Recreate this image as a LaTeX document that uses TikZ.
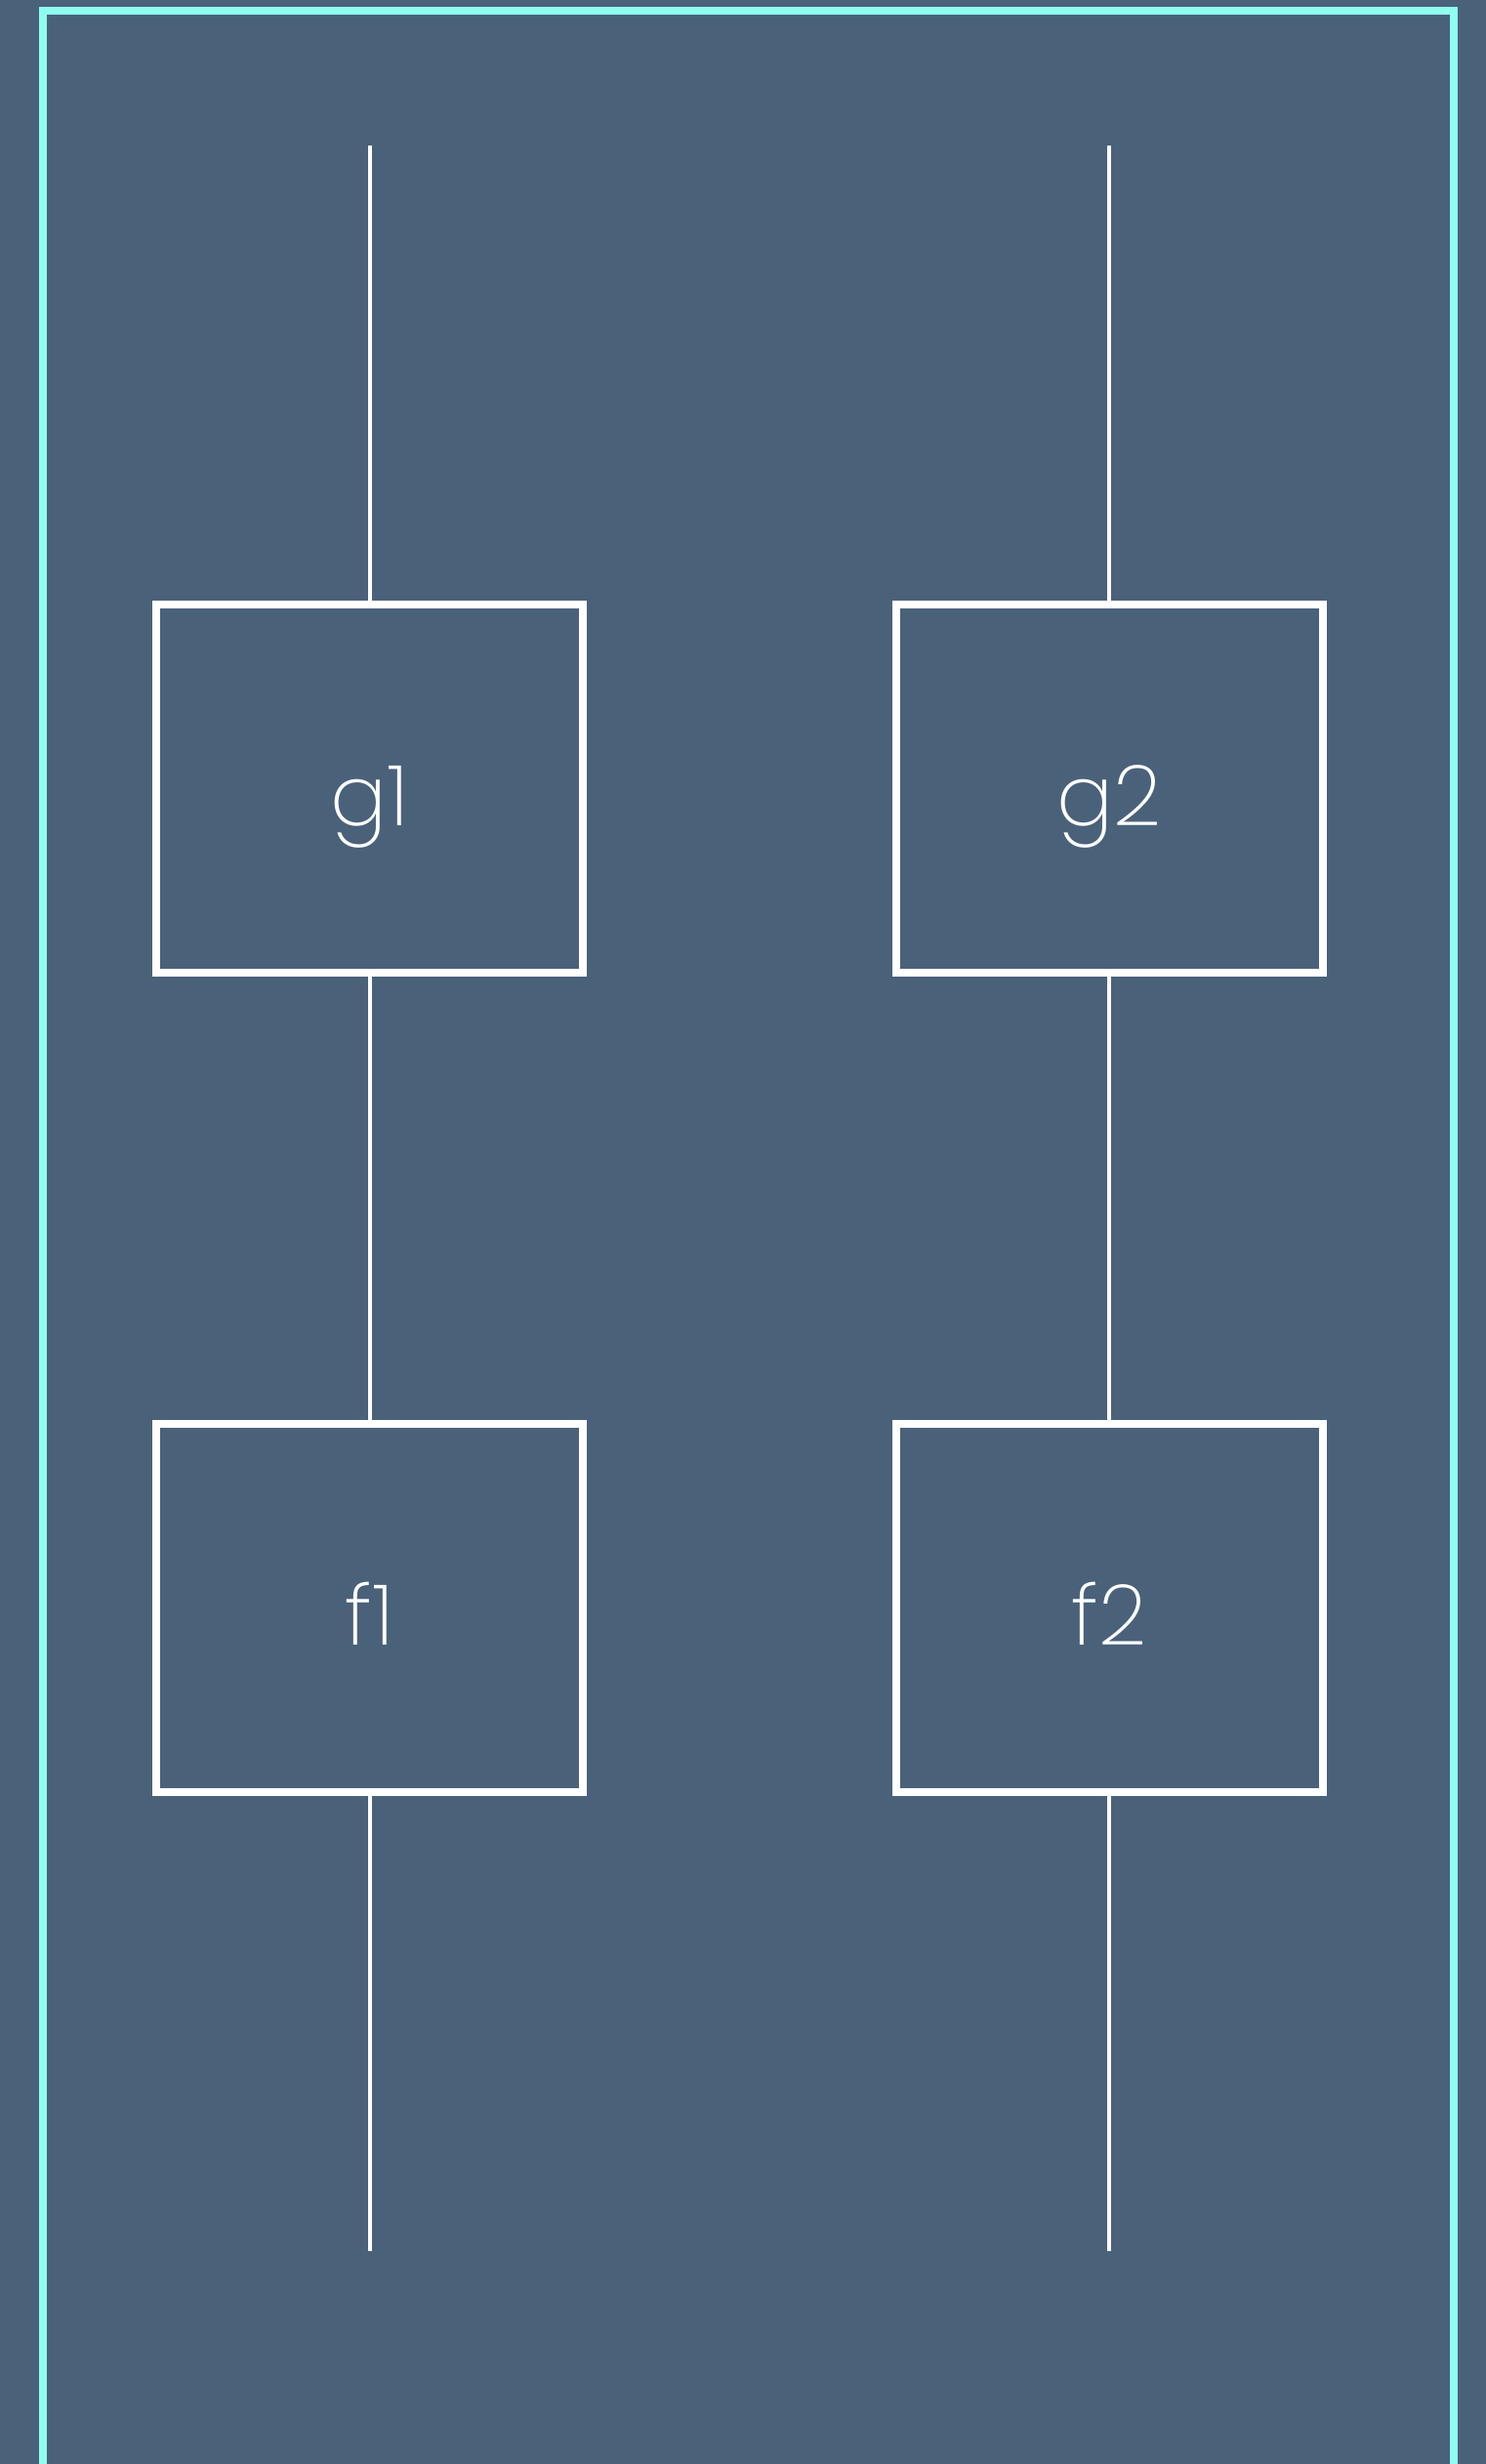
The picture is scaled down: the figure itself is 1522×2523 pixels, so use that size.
\documentclass[tikz,border=0pt]{standalone}
\usepackage{fontspec}
\IfFontExistsTF{Poppins ExtraLight}{\setmainfont{Poppins ExtraLight}}{\setmainfont{Poppins Light}}
\definecolor{bgc}{RGB}{74,97,122}
\definecolor{framec}{RGB}{143,255,238}
\tikzset{
  box/.style={draw=white, line width=8pt, rectangle, minimum width=437pt, minimum height=377pt, inner sep=0pt},
  lbl/.style={text=white, inner sep=0pt, anchor=base, font=\fontsize{86}{100}\selectfont},
  wire/.style={draw=white, line width=4pt}
}
\begin{document}
\begin{tikzpicture}[x=1pt, y=-1pt]
  \fill[bgc] (0,0) rectangle (1522,2523);
  \useasboundingbox (0,0) rectangle (1522,2523);
  \clip (0,0) rectangle (1522,2523);
  \draw[framec, line width=8pt] (43.5,2540) -- (43.5,10.7) -- (1489,10.7) -- (1489,2540);
  \node[box] (g1) at (378.5,807.5) {};
  \node[box] (g2) at (1136.3,807.5) {};
  \node[box] (f1) at (378.5,1646) {};
  \node[box] (f2) at (1136.3,1646) {};
  \node[lbl] (tg1) at ([yshift=-38pt]g1.center) {g1};
  \node[lbl] (tg2) at ([yshift=-38pt]g2.center) {g2};
  \node[lbl] (tf1) at ([yshift=-38pt]f1.center) {f1};
  \node[lbl] (tf2) at ([yshift=-38pt]f2.center) {f2};
  \coordinate (in1) at (378.5,149);
  \coordinate (in2) at (1136.3,149);
  \coordinate (out1) at (378.5,2305);
  \coordinate (out2) at (1136.3,2305);
  \draw[wire] (in1) -- (g1.north);
  \draw[wire] (g1.south) -- (f1.north);
  \draw[wire] (f1.south) -- (out1);
  \draw[wire] (in2) -- (g2.north);
  \draw[wire] (g2.south) -- (f2.north);
  \draw[wire] (f2.south) -- (out2);
\end{tikzpicture}
\end{document}
